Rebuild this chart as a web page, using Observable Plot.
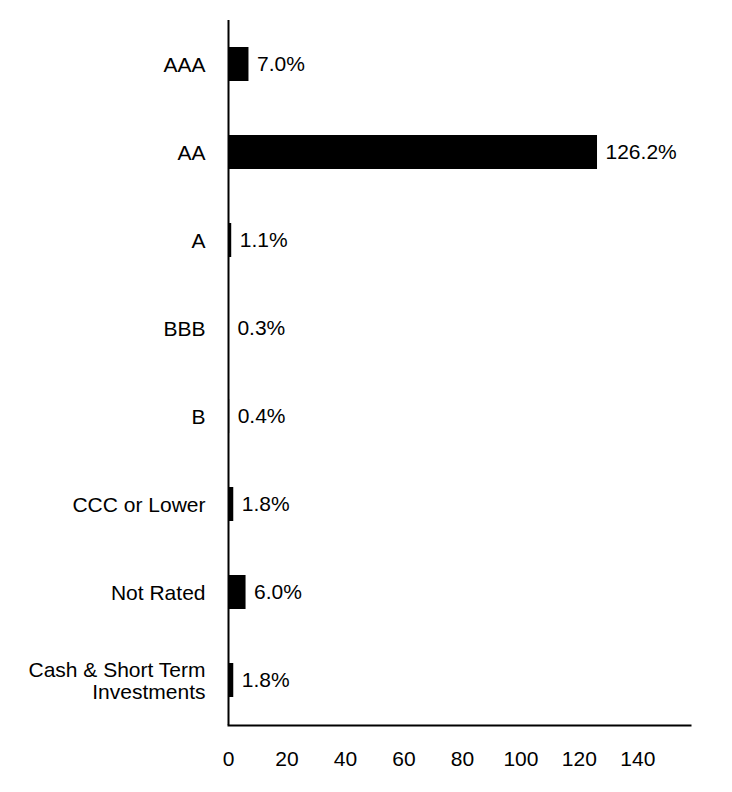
<!DOCTYPE html>
<html>
<head>
<meta charset="utf-8">
<script src="https://cdn.jsdelivr.net/npm/d3@7"></script>
<script src="https://cdn.jsdelivr.net/npm/@observablehq/plot@0.6"></script>
<style>
  html, body { margin: 0; padding: 0; background: #fff; }
  svg { display: block; }
</style>
</head>
<body>
<div id="chart"></div>
<script>
const categories = ["AAA", "AA", "A", "BBB", "B", "CCC or Lower", "Not Rated", "Cash & Short Term Investments"];
const values = [7.0, 126.2, 1.1, 0.3, 0.4, 1.8, 6.0, 1.8];
const xTicks = [0, 20, 40, 60, 80, 100, 120, 140];
const tickLabels = {"Cash & Short Term Investments": "Cash & Short Term\nInvestments"};

const data = categories.map((c, i) => ({category: c, value: values[i]}));

const chart = Plot.plot({
  width: 732,
  height: 792,
  marginTop: 20,
  marginBottom: 67,
  marginLeft: 228,
  marginRight: 42,
  style: {fontFamily: "'Liberation Sans', Arial, sans-serif", fontSize: "21px", color: "#000", background: "#fff"},
  x: {domain: [0, 158], ticks: xTicks},
  y: {domain: categories, paddingInner: 0.61, paddingOuter: 0.305},
  marks: [
    Plot.barX(data, {x: "value", y: "category", fill: "#000"}),
    Plot.text(data, {x: "value", y: "category", text: d => d.value.toFixed(1) + "%", textAnchor: "start", dx: 8, fontSize: 21, fill: "#000"}),
    Plot.ruleX([0], {stroke: "#000", strokeWidth: 2}),
    Plot.frame({anchor: "bottom", stroke: "#000", strokeWidth: 2}),
    Plot.axisX({ticks: xTicks, tickSize: 0, tickPadding: 26, label: null, fontSize: 21}),
    Plot.axisY({tickSize: 0, tickPadding: 23, label: null, fontSize: 21, lineHeight: 1.05, tickFormat: d => tickLabels[d] || d})
  ]
});
document.getElementById("chart").appendChild(chart);
</script>
</body>
</html>
